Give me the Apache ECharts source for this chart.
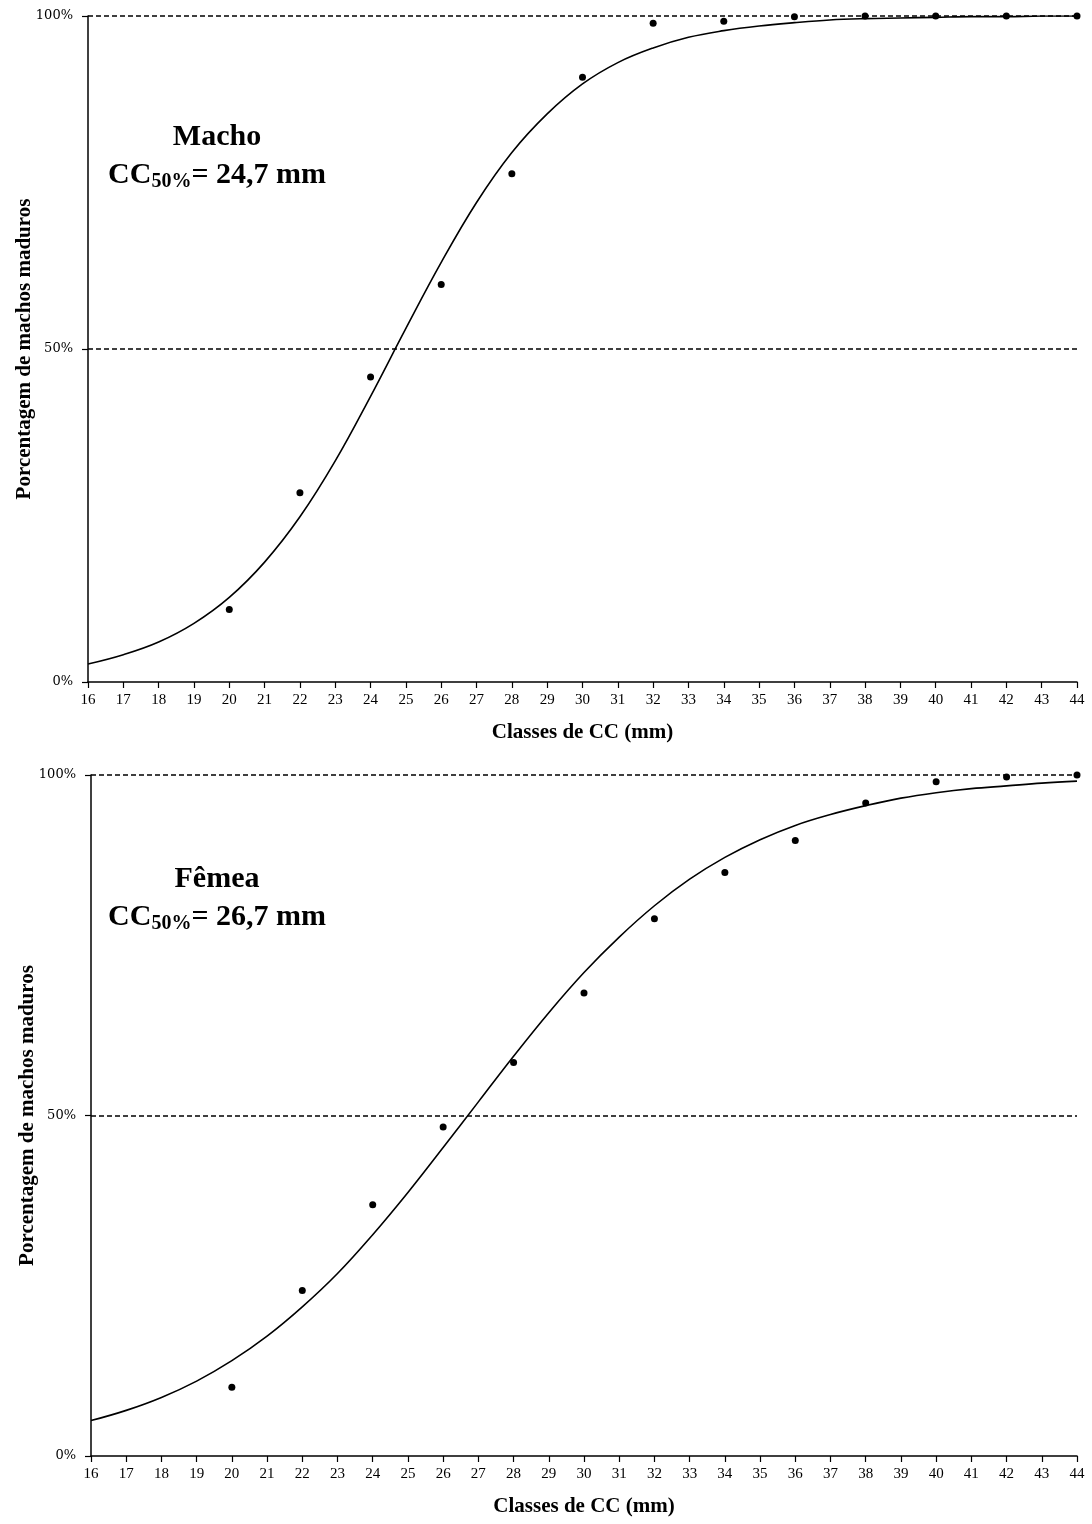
<!DOCTYPE html>
<html>
<head>
<meta charset="utf-8">
<script src="https://cdn.jsdelivr.net/npm/echarts@6/dist/echarts.min.js"></script>
<style>
  html, body { margin: 0; background: #fff; }
  #chart { width: 1092px; height: 1524px; }
</style>
</head>
<body>
<div id="chart"></div>
<script>
// classes de CC (mm) com pontos observados
const classes = [20, 22, 24, 26, 28, 30, 32, 34, 36, 38, 40, 42, 44]
const machoObs = [10.9, 28.4, 45.8, 59.7, 76.3, 90.8, 98.9, 99.2, 99.9, 100, 100, 100, 100]
const femeaObs = [10.1, 24.3, 36.9, 48.3, 57.8, 68.0, 78.9, 85.7, 90.4, 95.9, 99.0, 99.7, 100]

const curveX = [16, 17, 18, 19, 20, 21, 22, 23, 24, 25, 26, 27, 28, 29, 30,
                31, 32, 33, 34, 35, 36, 37, 38, 39, 40, 41, 42, 43, 44]
const machoFit = [2.7, 4.1, 6.0, 8.8, 12.7, 18.0, 24.8, 33.2, 42.9, 53.1, 63.0, 72.0, 79.5, 85.3, 89.8,
                  93.0, 95.2, 96.8, 97.8, 98.5, 99.0, 99.4, 99.6, 99.7, 99.8, 99.9, 99.9, 100, 100]
const femeaFit = [5.2, 6.7, 8.6, 11.0, 14.0, 17.6, 21.9, 26.8, 32.5, 38.7, 45.3, 52.0, 58.7, 65.1, 71.0,
                  76.2, 80.8, 84.7, 87.9, 90.5, 92.6, 94.2, 95.5, 96.6, 97.4, 98.0, 98.4, 98.8, 99.1]

const xTicks = [16, 44]       // primeira e última classe do eixo
const yTicks = [0, 50, 100]   // porcentagem
const refLines = [50, 100]    // linhas tracejadas

const serif = "'Liberation Serif', 'Times New Roman', serif"
const pairs = (xs, ys) => xs.map((x, i) => [x, ys[i]])

function xAxisFor(gridIndex) {
    return {
        type: 'value', gridIndex,
        min: xTicks[0], max: xTicks[1], interval: 1,
        name: 'Classes de CC (mm)',
        nameLocation: 'middle', nameGap: 40,
        nameTextStyle: { fontFamily: serif, fontWeight: 'bold', fontSize: 21, color: '#000' },
        axisLine: { lineStyle: { color: '#000', width: 1.5 } },
        axisTick: { length: 6, lineStyle: { color: '#000', width: 1.2 } },
        axisLabel: { margin: 11, fontFamily: serif, fontSize: 15, color: '#000' },
        splitLine: { show: false }
    }
}

function yAxisFor(gridIndex) {
    return {
        type: 'value', gridIndex,
        min: yTicks[0], max: yTicks[2], interval: yTicks[1],
        name: 'Porcentagem de machos maduros',
        nameLocation: 'middle', nameGap: 53, nameRotate: 90, nameMoveOverlap: false,
        nameTextStyle: { fontFamily: serif, fontWeight: 'bold', fontSize: 21, color: '#000' },
        axisLine: { show: true, lineStyle: { color: '#000', width: 1.5 } },
        axisTick: { show: true, length: 6, lineStyle: { color: '#000', width: 1.2 } },
        axisLabel: { margin: 15, fontFamily: "'DejaVu Serif', serif", fontSize: 13, color: '#000', formatter: '{value}%' },
        splitLine: { show: false }
    }
}

function panelSeries(idx, fit, obs) {
    return [
        {
            type: 'line', xAxisIndex: idx, yAxisIndex: idx,
            data: pairs(curveX, fit), smooth: 0.4, showSymbol: false,
            lineStyle: { color: '#000', width: 1.6 }, z: 3,
            markLine: {
                silent: true, symbol: 'none', label: { show: false },
                lineStyle: { color: '#000', width: 1.5, type: [5, 3] },
                data: refLines.map(v => ({ yAxis: v }))
            }
        },
        {
            type: 'scatter', xAxisIndex: idx, yAxisIndex: idx,
            data: pairs(classes, obs), symbolSize: 7,
            itemStyle: { color: '#000', opacity: 1 }, z: 4
        }
    ]
}

function label(x, y, sex, cc) {
    return [
        {
            type: 'text', x, y,
            style: { text: sex, font: `bold 30px ${serif}`, fill: '#000', align: 'center', verticalAlign: 'middle' }
        },
        {
            type: 'text', x, y: y + 38,
            style: {
                text: `{a|CC}{b|50%}{a|= ${cc} mm}`,
                align: 'center', verticalAlign: 'middle', fill: '#000',
                rich: {
                    a: { fontFamily: serif, fontWeight: 'bold', fontSize: 30, lineHeight: 34 },
                    b: { fontFamily: serif, fontWeight: 'bold', fontSize: 20, lineHeight: 14, verticalAlign: 'bottom' }
                }
            }
        }
    ]
}

const myChart = echarts.init(document.getElementById('chart'))

const option = {
    backgroundColor: '#fff',
    animation: false,
    grid: [
        { left: 88, top: 16, width: 989, height: 666, outerBoundsMode: 'none', containLabel: false },
        { left: 91, top: 775, width: 986, height: 681, outerBoundsMode: 'none', containLabel: false }
    ],
    xAxis: [xAxisFor(0), xAxisFor(1)],
    yAxis: [yAxisFor(0), yAxisFor(1)],
    series: [
        ...panelSeries(0, machoFit, machoObs),
        ...panelSeries(1, femeaFit, femeaObs)
    ],
    graphic: [
        ...label(217, 137, 'Macho', '24,7'),
        ...label(217, 879, 'Fêmea', '26,7')
    ]
}

myChart.setOption(option)
</script>
</body>
</html>
